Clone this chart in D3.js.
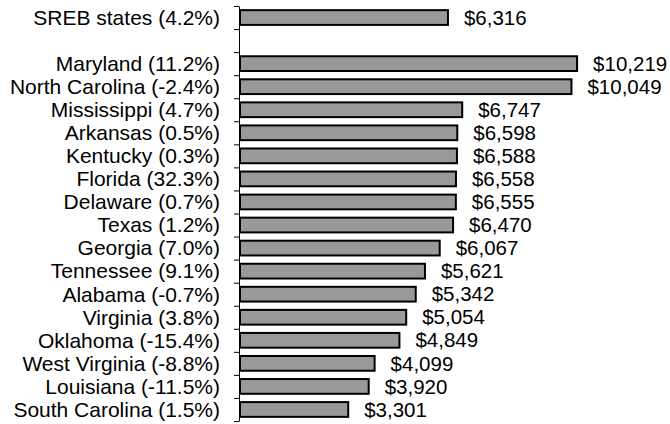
<!DOCTYPE html>
<html>
<head>
<meta charset="utf-8">
<script src="https://cdn.jsdelivr.net/npm/d3@7"></script>
<style>
  body { margin: 0; background: #fff; }
  text { font-family: 'Liberation Sans', Arial, sans-serif; }
</style>
</head>
<body>
<svg id="vis" width="670" height="424"></svg>
<script>
const svg = d3.select('#vis');

// category labels (blank slot separates the regional total from the states)
const labels = [
  'SREB states (4.2%)', '',
  'Maryland (11.2%)', 'North Carolina (-2.4%)', 'Mississippi (4.7%)',
  'Arkansas (0.5%)', 'Kentucky (0.3%)', 'Florida (32.3%)', 'Delaware (0.7%)',
  'Texas (1.2%)', 'Georgia (7.0%)', 'Tennessee (9.1%)', 'Alabama (-0.7%)',
  'Virginia (3.8%)', 'Oklahoma (-15.4%)', 'West Virginia (-8.8%)',
  'Louisiana (-11.5%)', 'South Carolina (1.5%)'
];
const values = [
  6316, null,
  10219, 10049, 6747, 6598, 6588, 6558, 6555, 6470, 6067,
  5621, 5342, 5054, 4849, 4099, 3920, 3301
];

const data = labels.map((label, i) => ({ key: 'c' + i, label: label, value: values[i] }));

const axisX = 239;
const plotTop = 6;
const plotBottom = 421;

const y = d3
  .scaleBand()
  .domain(data.map(d => d.key))
  .range([plotTop, plotBottom])
  .paddingInner(0.36)
  .paddingOuter(0.18);

const x = d3
  .scaleLinear()
  .domain([0, 12000])
  .range([axisX, 636]);

// ticks sit between categories
const tickPos = d3
  .scaleLinear()
  .domain([0, labels.length])
  .range([plotTop, plotBottom]);

const axis = svg
  .append('g')
  .attr('transform', `translate(${axisX},0)`)
  .call(
    d3.axisLeft(tickPos)
      .tickValues(d3.range(labels.length + 1))
      .tickFormat('')
      .tickSize(5)
      .tickSizeOuter(0)
  );
axis.select('.domain').attr('stroke', '#000');
axis.selectAll('.tick line').attr('stroke', '#000');

const barData = data.filter(d => d.value !== null);

svg
  .selectAll('rect.bar')
  .data(barData)
  .enter()
  .append('rect')
  .attr('class', 'bar')
  .attr('x', x(0) + 1)
  .attr('y', d => y(d.key))
  .attr('width', d => x(d.value) - x(0) - 1)
  .attr('height', y.bandwidth())
  .attr('fill', '#999999')
  .attr('stroke', '#000')
  .attr('stroke-width', 2);

// category labels
svg
  .selectAll('text.cat')
  .data(barData)
  .enter()
  .append('text')
  .attr('class', 'cat')
  .attr('x', 220)
  .attr('y', d => y(d.key) + y.bandwidth() / 2)
  .attr('dy', '0.35em')
  .attr('text-anchor', 'end')
  .style('font-size', '21px')
  .style('fill', '#000')
  .text(d => d.label);

// value labels
svg
  .selectAll('text.val')
  .data(barData)
  .enter()
  .append('text')
  .attr('class', 'val')
  .attr('x', d => x(d.value) + 16)
  .attr('y', d => y(d.key) + y.bandwidth() / 2)
  .attr('dy', '0.35em')
  .style('font-size', '20.5px')
  .style('fill', '#000')
  .text(d => '$' + d3.format(',')(d.value));
</script>
</body>
</html>
